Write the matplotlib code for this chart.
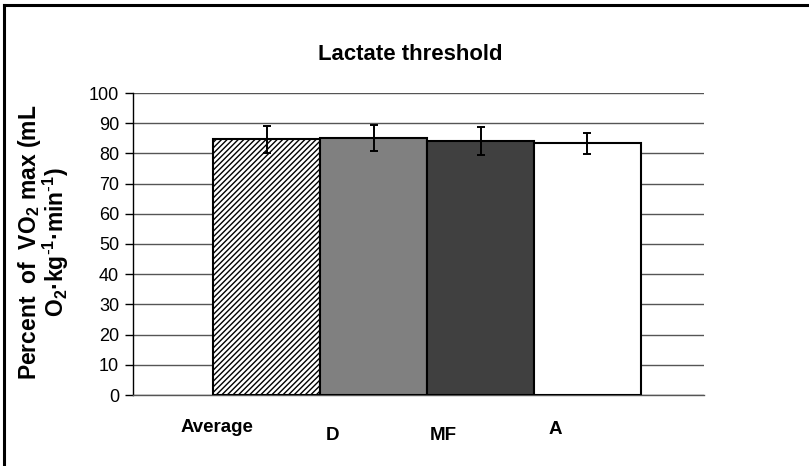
import matplotlib
matplotlib.use('Agg')
import matplotlib.pyplot as plt
from matplotlib.lines import Line2D

plt.rcParams['font.family'] = ['Liberation Sans', 'DejaVu Sans']
plt.rcParams['mathtext.default'] = 'regular'
plt.rcParams['hatch.linewidth'] = 1.0

categories = ['Average', 'D', 'MF', 'A']
values = [84.7, 85.2, 84.1, 83.3]
errors = [4.5, 4.3, 4.5, 3.4]
yticks = list(range(0, 101, 10))

colors = ['white', '#808080', '#404040', 'white']
hatches = ['//////', None, None, None]
# labels in the original are hand-placed text boxes, not under the bars
label_pos = [(-0.463, 427), (0.621, 435), (1.649, 435), (2.696, 430)]

fig = plt.figure(figsize=(8.09, 4.66), dpi=100)
ax = fig.add_axes([133 / 809, 1 - 395 / 466, (704 - 133) / 809, (395 - 93) / 466])

x = list(range(len(categories)))
bars = ax.bar(x, values, width=1.0, color=colors, edgecolor='black', linewidth=1.5, zorder=3)
for b, h in zip(bars, hatches):
    if h:
        b.set_hatch(h)
ax.errorbar(x, values, yerr=errors, fmt='none', ecolor='black', elinewidth=1.4,
            capsize=3, capthick=1.4, zorder=4)

ax.set_xlim(-1.248, 4.089)
ax.set_ylim(0, 100)
ax.set_yticks(yticks)
ax.set_yticklabels([str(t) for t in yticks], fontsize=13)
ax.set_xticks([])
ax.tick_params(axis='y', length=6, width=1, direction='out', pad=4)
ax.grid(axis='y', color='#555555', linewidth=1.0, zorder=0)
for s in ['top', 'right']:
    ax.spines[s].set_visible(False)
ax.spines['left'].set_linewidth(1)
ax.spines['bottom'].set_linewidth(1)
ax.spines['bottom'].set_color('#555555')

for name, (lx, py) in zip(categories, label_pos):
    ax.annotate(name, xy=(lx, 0), xycoords=('data', 'axes fraction'),
                xytext=(0, -(py - 395)), textcoords='offset pixels',
                ha='center', va='center', fontsize=13.5, fontweight='bold')

fig.text(410 / 809, 1 - 55 / 466, 'Lactate threshold', ha='center', va='center',
         fontsize=15.9, fontweight='bold')
fig.text(30 / 809, 1 - 242 / 466, 'Percent  of  VO$_2$ max (mL', rotation=90,
         ha='center', va='center', fontsize=16.5, fontweight='bold')
fig.text(56 / 809, 1 - 242 / 466, r'O$_2$·kg$^{\text{-}1}$·min$^{\text{-}1}$)', rotation=90,
         ha='center', va='center', fontsize=16.5, fontweight='bold')

# partial outer frame (left and top only)
fig.add_artist(Line2D([4 / 809, 4 / 809], [0, 1 - 5 / 466], color='black', linewidth=2.2))
fig.add_artist(Line2D([4 / 809, 1], [1 - 5 / 466, 1 - 5 / 466], color='black', linewidth=2.2))

fig.savefig('out.png', dpi=100)
